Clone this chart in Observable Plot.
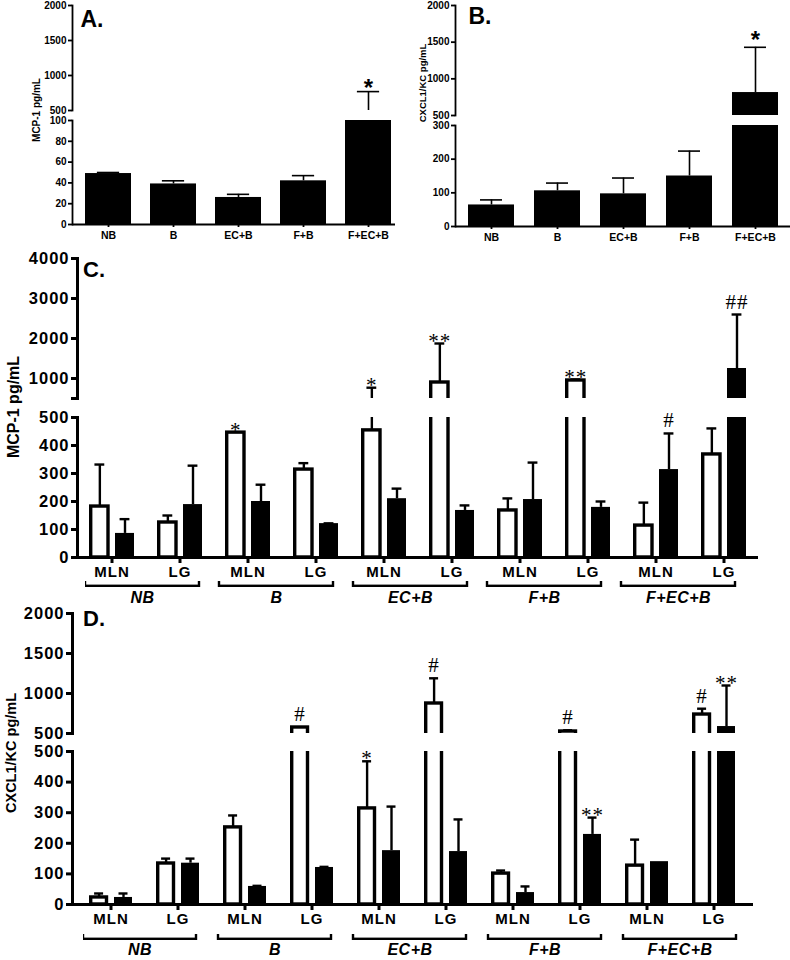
<!DOCTYPE html>
<html>
<head>
<meta charset="utf-8">
<script src="https://cdn.jsdelivr.net/npm/d3@7"></script>
<script src="https://cdn.jsdelivr.net/npm/@observablehq/plot@0.6"></script>
<style>
  body { margin: 0; background: #fff; font-family: "Liberation Sans", Arial, Helvetica, sans-serif; }
  #root { position: relative; width: 790px; height: 960px; overflow: hidden; }
  .txt { position: absolute; white-space: nowrap; font-weight: bold; color: #000; line-height: 1; }
</style>
</head>
<body>
<div id="root"></div>
<script>
// ---------------- DATA ----------------
const groupsAB = ["NB", "B", "EC+B", "F+B", "F+EC+B"];
const mcp1AMean = [49, 39, 26, 42, 400];
const mcp1ATop  = [50, 42, 29, 47, 770];
const mcp1ASig  = ["", "", "", "", "*"];

const cxclBMean = [64, 106, 97, 150, 813];
const cxclBTop  = [79, 129, 144, 224, 1430];
const cxclBSig  = ["", "", "", "", "*"];

const groupsCD = ["NB", "B", "EC+B", "F+B", "F+EC+B"];
const tissues = ["MLN", "LG"];
const keysCD = groupsCD.flatMap(g => tissues.map(t => g + "|" + t));

const mcp1COpenMean = [182, 125, 446, 314, 454, 900, 168, 950, 114, 368];
const mcp1COpenTop  = [332, 150, 446, 337, 770, 1875, 211, 975, 196, 461];
const mcp1COpenSig  = ["", "", "*", "", "*", "**", "", "**", "", ""];
const mcp1CFillMean = [86, 189, 200, 121, 210, 168, 207, 179, 314, 1250];
const mcp1CFillTop  = [137, 328, 260, 122, 246, 186, 339, 200, 443, 2600];
const mcp1CFillSig  = ["", "", "", "", "", "", "", "", "#", "##"];

const cxclDOpenMean = [23, 134, 252, 575, 314, 875, 101, 525, 127, 737];
const cxclDOpenTop  = [36, 150, 291, 578, 468, 1190, 111, 540, 212, 810];
const cxclDOpenSig  = ["", "", "", "#", "*", "#", "", "#", "", "#"];
const cxclDFillMean = [23, 135, 59, 121, 176, 173, 39, 229, 140, 587];
const cxclDFillTop  = [36, 150, 61, 123, 320, 278, 59, 284, 140, 1100];
const cxclDFillSig  = ["", "", "", "", "", "", "", "**", "", "**"];

// ---------------- HELPERS ----------------
const FONT = '"Liberation Sans", Arial, Helvetica, sans-serif';
const SERIF = '"Liberation Serif", "Times New Roman", serif';
const root = document.getElementById("root");
const rows = (keys, mean, top, sig) => keys.map((k, i) => ({k, v: mean[i], e: top[i], s: sig[i]}));
const fmt = d => `${d}`;

function htmlText(txt, cx, cy, size, opts = {}) {
  const d = document.createElement("div");
  d.className = "txt";
  d.textContent = txt;
  d.style.fontSize = size + "px";
  d.style.left = cx + "px";
  d.style.top = cy + "px";
  d.style.transform = "translate(-50%,-50%)" + (opts.rotate ? " rotate(-90deg)" : "");
  root.appendChild(d);
}

function seriesMarks(rs, seg, split, st) {
  const dx = (st.insetLeft - st.insetRight) / 2;
  const inSeg = d => seg === "upper" ? d.e > split : d.e <= split;
  const capInset = (st.bw - st.capW) / 2;
  const withErr = rs.filter(d => d.e > d.v);
  const stars = rs.filter(d => d.s && d.s.includes("*") && inSeg(d));
  const hashes = rs.filter(d => d.s && d.s.includes("#") && inSeg(d));
  const txt = {x: "k", y: "e", text: "s", dx, lineAnchor: "bottom", fontSize: st.sigSize,
               fontFamily: st.sigFamily, fontWeight: st.sigWeight, fill: "black"};
  return [
    Plot.ruleX(withErr, {x: "k", y1: "v", y2: "e", dx, stroke: "black", strokeWidth: st.errW, clip: true}),
    Plot.tickY(withErr, {x: "k", y: "e", dx, insetLeft: capInset, insetRight: capInset, stroke: "black", strokeWidth: st.errW, clip: true}),
    Plot.barY(rs, {x: "k", y1: 0, y2: "v", fill: st.fill, stroke: st.stroke, strokeWidth: st.strokeWidth,
                   insetLeft: st.insetLeft, insetRight: st.insetRight, clip: true}),
    Plot.text(stars, {...txt, dy: st.starDy}),
    Plot.text(hashes, {...txt, dy: st.hashDy})
  ];
}

function place(svg, div, extra = {}) {
  Object.assign(svg.style, {position: "absolute", left: "0px", top: "0px", background: "transparent",
    overflow: "visible", fontFamily: FONT, maxWidth: "none"}, extra);
  div.appendChild(svg);
}

function panel(cfg) {
  const div = document.createElement("div");
  div.style.cssText = `position:absolute;left:${cfg.left}px;top:${cfg.top}px;width:${cfg.width}px;height:${cfg.height}px;`;
  root.appendChild(div);
  const xOpt = {type: "band", domain: cfg.xDomain, paddingInner: cfg.pi, paddingOuter: cfg.po, align: cfg.align};
  const bw = d3.scaleBand().domain(cfg.xDomain).range([cfg.ml, cfg.width - cfg.mr])
    .paddingInner(cfg.pi).paddingOuter(cfg.po).align(cfg.align).bandwidth();
  const split = cfg.lower.domain[1];
  for (const name of ["upper", "lower"]) {
    const s = cfg[name];
    const marks = [];
    for (const ser of cfg.series) marks.push(...seriesMarks(ser.rows, name, split, {...ser.style, bw}));
    marks.push(Plot.frame({anchor: "left", strokeWidth: cfg.axisW}));
    marks.push(Plot.axisY({ticks: s.ticks, tickFormat: s.fmt || fmt, tickSize: cfg.tickSize, tickPadding: cfg.tickPad,
      strokeWidth: cfg.axisW, fontSize: cfg.tickFont, fontWeight: "bold", label: null}));
    if (name === "lower") {
      marks.push(Plot.ruleY([0], {strokeWidth: cfg.axisW}));
      marks.push(Plot.axisX({tickSize: cfg.xTickSize, tickPadding: cfg.xTickPad, tickFormat: cfg.xFmt || (d => d),
        strokeWidth: cfg.axisW, fontSize: cfg.xFont, fontWeight: "bold", label: null}));
    }
    const svg = Plot.plot({
      width: cfg.width, height: cfg.height, marginLeft: cfg.ml, marginRight: cfg.mr,
      marginTop: s.top, marginBottom: cfg.height - s.bottom,
      x: name === "lower" ? xOpt : {...xOpt, axis: null},
      y: {domain: s.domain},
      marks
    });
    place(svg, div, cfg.svgStyle || {});
  }
  if (cfg.brackets) {
    const b = cfg.brackets;
    const svg = Plot.plot({
      width: cfg.width, height: cfg.height, marginLeft: b.ml, marginRight: b.mr,
      marginTop: b.top, marginBottom: cfg.height - b.bottom,
      x: {type: "band", domain: b.domain, paddingInner: b.pi, paddingOuter: 0, align: 0},
      y: {domain: [0, 1], axis: null},
      marks: [
        Plot.barY(b.domain, {x: d => d, y1: 0.2, y2: 3, fill: "none", stroke: "black", strokeWidth: 2.4, clip: true}),
        Plot.axisX({tickSize: 0, tickPadding: b.pad, fontSize: b.font, fontWeight: "bold", label: null})
      ]
    });
    place(svg, div, {fontStyle: "italic", letterSpacing: "0.5px"});
  }
}

// ---------------- PANEL A ----------------
const smallStyle = {fill: "black", stroke: "none", strokeWidth: 0, insetLeft: 0, insetRight: 0, capW: 22, errW: 1.6,
  sigSize: 24, sigFamily: FONT, sigWeight: "bold", starDy: 4, hashDy: 0};
panel({
  left: 0, top: 0, width: 395, height: 250, ml: 72, mr: 0,
  xDomain: groupsAB, pi: 0.3, po: 0.12, align: 0.75,
  upper: {top: 5, bottom: 110, domain: [500, 2000], ticks: [500, 1000, 1500, 2000]},
  lower: {top: 120, bottom: 224, domain: [0, 100], ticks: [0, 20, 40, 60, 80, 100]},
  axisW: 1.8, tickSize: 4, tickPad: 2, tickFont: 10,
  xTickSize: 3, xTickPad: 4, xFont: 10.5,
  series: [{rows: rows(groupsAB, mcp1AMean, mcp1ATop, mcp1ASig), style: smallStyle}]
});

// ---------------- PANEL B ----------------
panel({
  left: 395, top: 0, width: 395, height: 250, ml: 60, mr: 0,
  xDomain: groupsAB, pi: 0.306, po: 0.18, align: 0.5,
  upper: {top: 5, bottom: 115, domain: [500, 2000], ticks: [500, 1000, 1500, 2000]},
  lower: {top: 125, bottom: 226, domain: [0, 300], ticks: [0, 100, 200, 300]},
  axisW: 1.8, tickSize: 4, tickPad: 2, tickFont: 10,
  xTickSize: 3, xTickPad: 4, xFont: 10.5,
  series: [{rows: rows(groupsAB, cxclBMean, cxclBTop, cxclBSig), style: {...smallStyle, starDy: 1}}]
});

// ---------------- PANEL C ----------------
const openC = {fill: "white", stroke: "black", strokeWidth: 3.4, insetLeft: 1.7, insetRight: 26, capW: 10, errW: 2.4,
  sigSize: 21, sigFamily: SERIF, sigWeight: "normal", starDy: 4, hashDy: -6};
const fillC = {...openC, fill: "black", stroke: "none", strokeWidth: 0, insetLeft: 26, insetRight: 0};
panel({
  left: 0, top: 250, width: 790, height: 365, ml: 77, mr: 32,
  xDomain: keysCD, pi: 0.34, po: 0.146, align: 0.5,
  upper: {top: 8, bottom: 148, domain: [500, 4000], ticks: [500, 1000, 2000, 3000, 4000], fmt: d => d === 500 ? "" : `${d}`},
  lower: {top: 167, bottom: 307, domain: [0, 500], ticks: [0, 100, 200, 300, 400, 500]},
  axisW: 3, tickSize: 6, tickPad: 2, tickFont: 16.5,
  xTickSize: 6, xTickPad: 3, xFont: 15, xFmt: k => k.split("|")[1],
  svgStyle: {letterSpacing: "1px"},
  series: [
    {rows: rows(keysCD, mcp1COpenMean, mcp1COpenTop, mcp1COpenSig), style: openC},
    {rows: rows(keysCD, mcp1CFillMean, mcp1CFillTop, mcp1CFillSig), style: fillC}
  ],
  brackets: {domain: groupsCD, ml: 85, mr: 50, pi: 0.148, top: 331, bottom: 337, pad: 4, font: 16}
});

// ---------------- PANEL D ----------------
const openD = {...openC, insetLeft: 1.7, insetRight: 25.5};
const fillD = {...fillC, insetLeft: 25};
panel({
  left: 0, top: 610, width: 790, height: 350, ml: 72, mr: 37,
  xDomain: keysCD, pi: 0.352, po: 0.19, align: 0.5,
  upper: {top: 3, bottom: 123, domain: [500, 2000], ticks: [500, 1000, 1500, 2000]},
  lower: {top: 141, bottom: 294, domain: [0, 500], ticks: [0, 100, 200, 300, 400, 500]},
  axisW: 3, tickSize: 6, tickPad: 2, tickFont: 16.5,
  xTickSize: 6, xTickPad: 3, xFont: 15, xFmt: k => k.split("|")[1],
  svgStyle: {letterSpacing: "1px"},
  series: [
    {rows: rows(keysCD, cxclDOpenMean, cxclDOpenTop, cxclDOpenSig), style: openD},
    {rows: rows(keysCD, cxclDFillMean, cxclDFillTop, cxclDFillSig), style: fillD}
  ],
  brackets: {domain: groupsCD, ml: 83, mr: 50, pi: 0.16, top: 324, bottom: 330, pad: 3, font: 16}
});

// ---------------- TEXT ----------------
htmlText("A.", 92, 19, 23);
htmlText("B.", 480, 16, 23);
htmlText("C.", 94, 270, 22);
htmlText("D.", 94, 619, 22);
htmlText("MCP-1 pg/mL", 37, 110, 10, {rotate: true});
htmlText("CXCL1/KC pg/mL", 423, 83, 9.5, {rotate: true});
htmlText("MCP-1 pg/mL", 14, 407, 16, {rotate: true});
htmlText("CXCL1/KC pg/mL", 11, 753, 14.5, {rotate: true});
</script>
</body>
</html>
